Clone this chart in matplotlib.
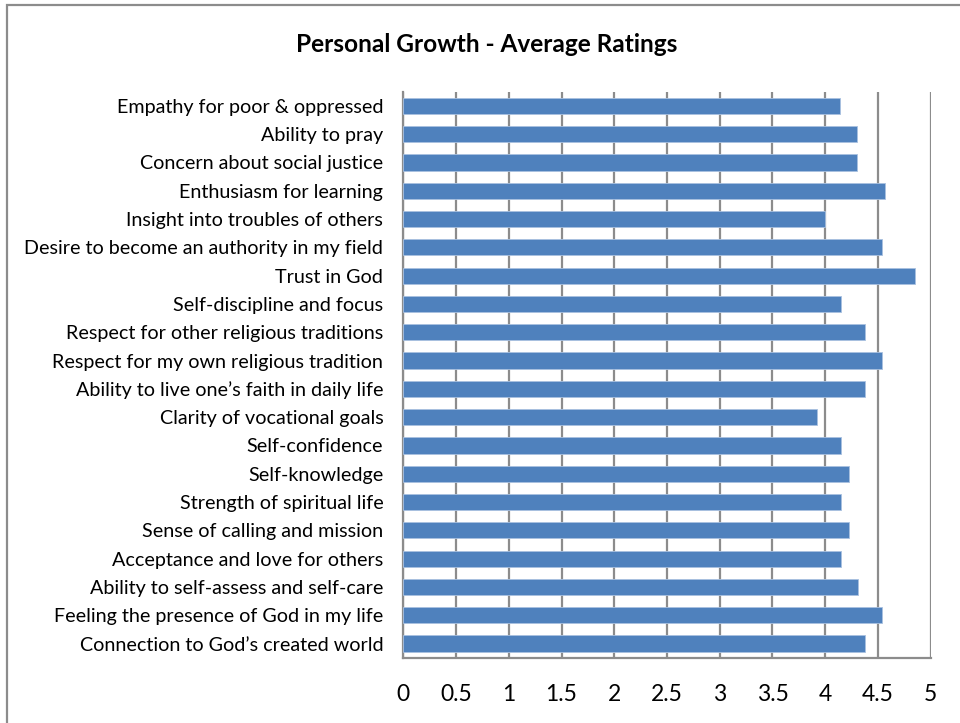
import matplotlib
matplotlib.use("Agg")
import matplotlib.pyplot as plt
from matplotlib.patches import Rectangle

plt.rcParams['font.family'] = ['Lato', 'DejaVu Sans']

# Survey items, listed top to bottom as drawn
categories = [
    "Empathy for poor & oppressed",
    "Ability to pray",
    "Concern about social justice",
    "Enthusiasm for learning",
    "Insight into troubles of others",
    "Desire to become an authority in my field",
    "Trust in God",
    "Self-discipline and focus",
    "Respect for other religious traditions",
    "Respect for my own religious tradition",
    "Ability to live one\u2019s faith in daily life",
    "Clarity of vocational goals",
    "Self-confidence",
    "Self-knowledge",
    "Strength of spiritual life",
    "Sense of calling and mission",
    "Acceptance and love for others",
    "Ability to self-assess and self-care",
    "Feeling the presence of God in my life",
    "Connection to God\u2019s created world",
]
ratings = [4.14, 4.30, 4.30, 4.57, 4.00, 4.54, 4.85, 4.15, 4.38, 4.54,
           4.38, 3.92, 4.15, 4.23, 4.15, 4.23, 4.15, 4.31, 4.54, 4.38]
xticks = [0, 0.5, 1, 1.5, 2, 2.5, 3, 3.5, 4, 4.5, 5]
xtick_labels = ["0", "0.5", "1", "1.5", "2", "2.5", "3", "3.5", "4", "4.5", "5"]

fig = plt.figure(figsize=(9.6, 7.23), dpi=100)

# outer chart-area frame
fig.patches.append(Rectangle((7 / 960, -0.05), 1.2, (723 - 5.5) / 723 + 0.05,
                             transform=fig.transFigure, fill=False,
                             edgecolor="#8c8c8c", linewidth=1.6))

ax = fig.add_axes([403.3 / 960, 65.3 / 723, 527.4 / 960, 566 / 723])

ypos = list(range(len(categories)))[::-1]
ax.barh(ypos, ratings, height=0.57, color="#4F81BD",
        edgecolor="#a9c1e0", linewidth=0.6, zorder=3)

ax.set_xlim(0, 5)
ax.set_ylim(-0.5, len(categories) - 0.5)
ax.set_xticks(xticks)
ax.set_xticklabels(xtick_labels, fontsize=16.5)
ax.set_yticks(ypos)
ax.set_yticklabels(categories, fontsize=14.2)
ax.tick_params(axis="x", length=0, pad=19)
ax.tick_params(axis="y", length=0, pad=14.4)
ax.grid(axis="x", color="#8c8c8c", linewidth=1.6, zorder=0)
for side in ("top", "right"):
    ax.spines[side].set_visible(False)
for side in ("left", "bottom"):
    ax.spines[side].set_color("#8c8c8c")
    ax.spines[side].set_linewidth(1.6)

fig.text(487 / 960, 1 - 44 / 723, "Personal Growth - Average Ratings",
         ha="center", va="center", fontsize=17.6, fontweight="bold")

fig.savefig("out.png", dpi=100)
